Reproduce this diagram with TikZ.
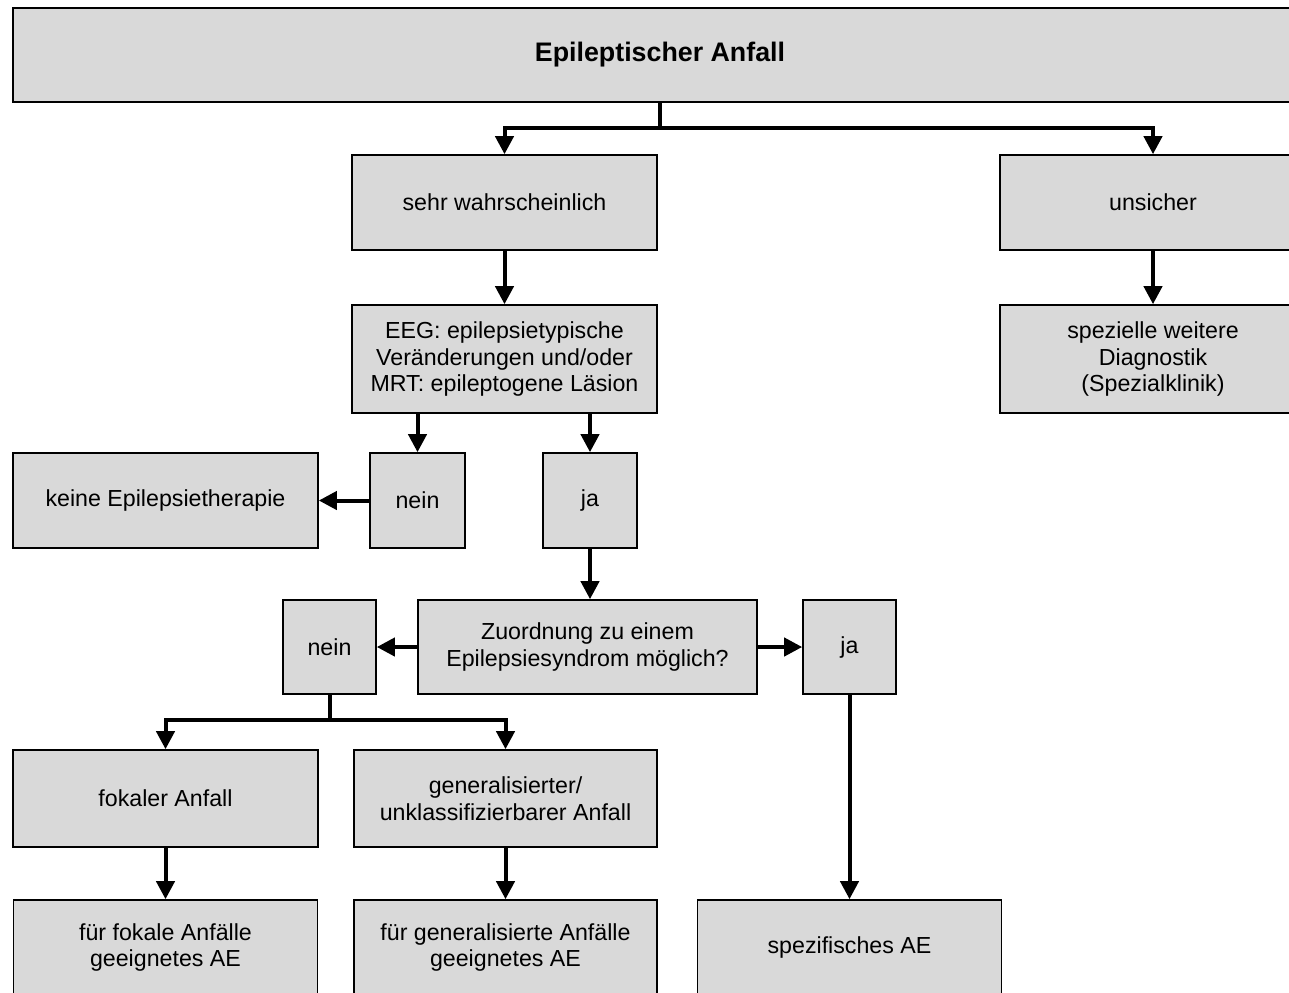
\documentclass[tikz,border=0pt]{standalone}
\usepackage{fontspec}
\setmainfont{Liberation Sans}
\usetikzlibrary{arrows.meta}
\definecolor{boxgray}{HTML}{D9D9D9}
\begin{document}
\begin{tikzpicture}[x=0.5pt,y=-0.5pt,
  box/.style={draw=black, line width=0.8pt, fill=boxgray, rectangle, align=center,
    inner sep=0pt, font=\fontsize{11.6}{13.3}\selectfont},
  arr/.style={line width=2pt, -{Triangle[width=9pt,length=9pt]}},
  ln/.style={line width=2pt}]
\useasboundingbox (0,0) rectangle (1289,992);
\clip (0,0) rectangle (1289,992);

\node[box, minimum width=647pt, minimum height=47pt, font=\fontsize{13.4}{15}\selectfont\bfseries] (top) at (660,55) {Epileptischer Anfall};
\node[box, minimum width=152.5pt, minimum height=47.5pt] (sw) at (504.5,202.5) {sehr wahrscheinlich};
\node[box, minimum width=153pt, minimum height=47.5pt] (uns) at (1153,202.5) {unsicher};
\node[box, minimum width=152.5pt, minimum height=54pt] (eeg) at (504.5,359) {EEG: epilepsietypische\\Veränderungen und/oder\\MRT: epileptogene Läsion};
\node[box, minimum width=153pt, minimum height=54pt] (spez) at (1153,359) {spezielle weitere\\Diagnostik\\(Spezialklinik)};
\node[box, minimum width=152.5pt, minimum height=47.5pt] (keine) at (165.5,500.5) {keine Epilepsietherapie};
\node[box, minimum width=47.5pt, minimum height=47.5pt] (nein1) at (417.5,500.5) {nein};
\node[box, minimum width=47pt, minimum height=47.5pt] (ja1) at (590,500.5) {ja};
\node[box, minimum width=169.5pt, minimum height=47pt] (zu) at (587.5,647) {Zuordnung zu einem\\Epilepsiesyndrom möglich?};
\node[box, minimum width=46.5pt, minimum height=47pt] (nein2) at (329.5,647) {nein};
\node[box, minimum width=46.5pt, minimum height=47pt] (ja2) at (849.5,647) {ja};
\node[box, minimum width=152.5pt, minimum height=48.5pt] (fok) at (165.5,798.5) {fokaler Anfall};
\node[box, minimum width=151.5pt, minimum height=48.5pt] (gen) at (505.5,798.5) {generalisierter/\\unklassifizierbarer Anfall};
\node[box, minimum width=152pt, minimum height=47.5pt] (ffa) at (165.5,947.5) {für fokale Anfälle\\geeignetes AE};
\node[box, minimum width=151.5pt, minimum height=47.5pt] (fga) at (505.5,947.5) {für generalisierte Anfälle\\geeignetes AE};
\node[box, minimum width=152pt, minimum height=47.5pt] (spae) at (849.5,947.5) {spezifisches AE};

\coordinate (j1) at (660,128);
\coordinate (j2) at (329.5,720);

\draw[ln] (top.south) -- (j1);
\draw[arr] (j1) -| (sw.north);
\draw[arr] (j1) -| (uns.north);
\draw[arr] (sw.south) -- (eeg.north);
\draw[arr] (uns.south) -- (spez.north);
\draw[arr] (nein1.north |- eeg.south) -- (nein1.north);
\draw[arr] (ja1.north |- eeg.south) -- (ja1.north);
\draw[arr] (nein1.west) -- (keine.east);
\draw[arr] (ja1.south) -- (ja1.south |- zu.north);
\draw[arr] (zu.west) -- (nein2.east);
\draw[arr] (zu.east) -- (ja2.west);
\draw[ln] (nein2.south) -- (j2);
\draw[arr] (j2) -| (fok.north);
\draw[arr] (j2) -| (gen.north);
\draw[arr] (fok.south) -- (ffa.north);
\draw[arr] (gen.south) -- (fga.north);
\draw[arr] (ja2.south) -- (spae.north);
\end{tikzpicture}
\end{document}
